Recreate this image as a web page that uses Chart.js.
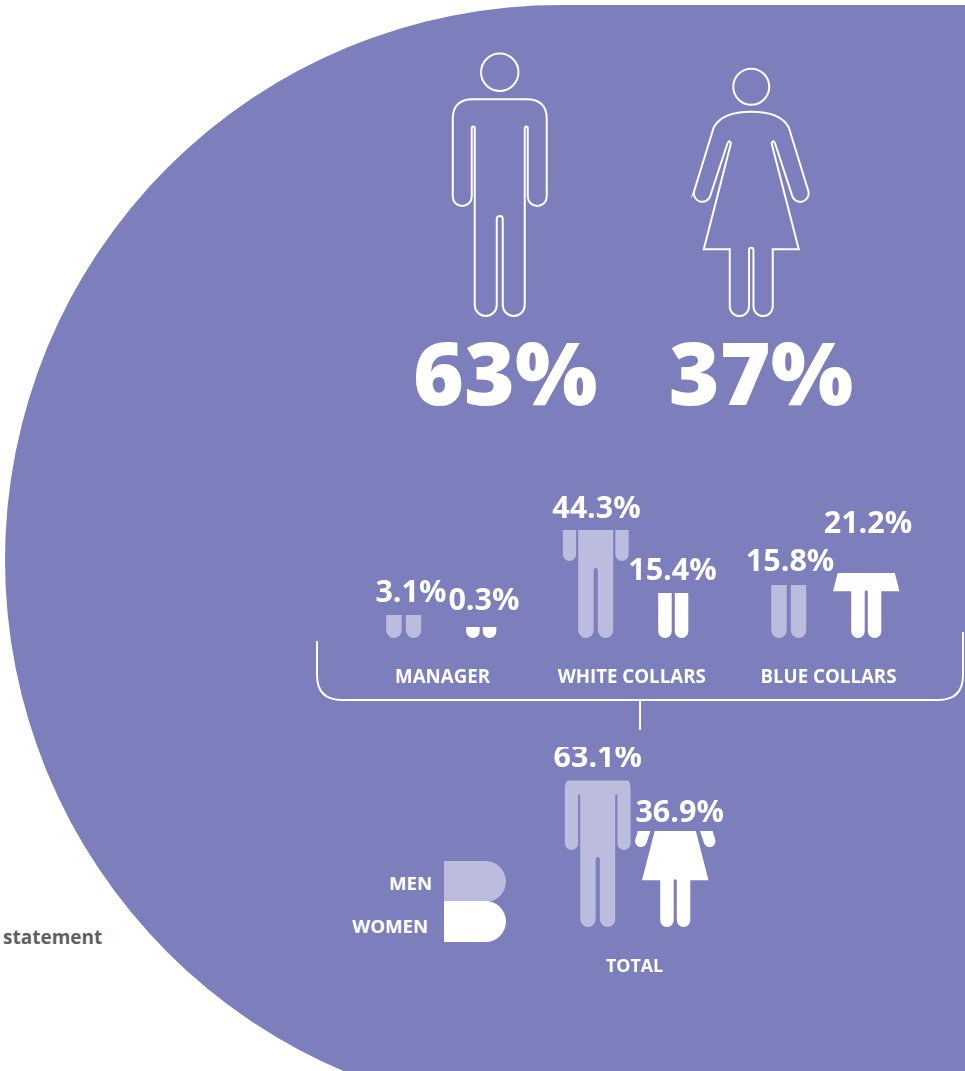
<!DOCTYPE html>
<html>
<head>
<meta charset="utf-8">
<title>Men and women by job category</title>
<script src="https://cdn.jsdelivr.net/npm/chart.js@4"></script>
<style>
  html, body { margin: 0; background: #fff; }
  #page { position: relative; width: 965px; height: 1071px; overflow: hidden; font-family: "Open Sans", sans-serif; }
  #page svg { position: absolute; left: 0; top: 0; }
  #page canvas { position: absolute; }
  .note { position: absolute; left: 3px; top: 925px; font-size: 19px; font-weight: 700; line-height: 24px; color: #5f6062; }
  .key { position: absolute; left: 444px; width: 62px; height: 41px; border-radius: 0 21px 21px 0; }
  .key-label { position: absolute; width: 100px; text-align: right; font-size: 18.6px; font-weight: 700; line-height: 24px; color: #fff; }
</style>
</head>
<body>
<div id="page">
  <svg width="965" height="1071">
    <path d="M965 5 H560 A555 555 0 0 0 560 1115 H965 Z" fill="#7c7fbb"/>
    <path d="M317 641 V675 Q317 700 342 700 H938 Q963 700 963 675 V632 M640 700 V730" fill="none" stroke="#fff" stroke-width="2"/>
  </svg>
  <div class="note">statement</div>
  <div class="key-label" style="left:332px;top:871px" id="keyMen"></div>
  <div class="key-label" style="left:328px;top:914px" id="keyWomen"></div>
  <div class="key" style="top:861px;background:#bbbcde"></div>
  <div class="key" style="top:901px;background:#fff"></div>
</div>
<script>
// values in percent
const seriesNames = ['MEN', 'WOMEN'];
const headlineCategories = ['ALL'];
const headlineMen = [63];
const headlineWomen = [37];
const managerCategories = ['MANAGER'];
const managerMen = [3.1];
const managerWomen = [0.3];
const whiteCategories = ['WHITE COLLARS'];
const whiteMen = [44.3];
const whiteWomen = [15.4];
const blueCategories = ['BLUE COLLARS'];
const blueMen = [15.8];
const blueWomen = [21.2];
const totalCategories = ['TOTAL'];
const totalMen = [63.1];
const totalWomen = [36.9];

const MEN_COLOR = '#bbbcde';
const WOMEN_COLOR = '#ffffff';

document.getElementById('keyMen').textContent = seriesNames[0];
document.getElementById('keyWomen').textContent = seriesNames[1];

// silhouettes: origin between the feet, y pointing up
function manPath() {
  const p = new Path2D();
  p.moveTo(-25, 11);
  p.arc(-14, 11, 11, Math.PI, Math.PI * 2);
  p.lineTo(-3, 97);
  p.arc(0, 97, 3, Math.PI, 0, true);
  p.lineTo(3, 11);
  p.arc(14, 11, 11, Math.PI, Math.PI * 2);
  p.lineTo(25, 188);
  p.arc(26.5, 188, 1.5, Math.PI, 0, true);
  p.lineTo(28, 119.5);
  p.arc(37.5, 119.5, 9.5, Math.PI, Math.PI * 2);
  p.lineTo(47, 197);
  p.quadraticCurveTo(47, 216.7, 27, 216.7);
  p.lineTo(-27, 216.7);
  p.quadraticCurveTo(-47, 216.7, -47, 197);
  p.lineTo(-47, 119.5);
  p.arc(-37.5, 119.5, 9.5, Math.PI, Math.PI * 2);
  p.lineTo(-28, 188);
  p.arc(-26.5, 188, 1.5, Math.PI, 0, true);
  p.closePath();
  p.moveTo(18.7, 243.7);
  p.arc(0, 243.7, 18.7, 0, Math.PI * 2);
  return p;
}

function womanPath() {
  const p = new Path2D();
  const tilt = 0.197;
  p.moveTo(-21.5, 9.65);
  p.arc(-11.85, 9.65, 9.65, Math.PI, Math.PI * 2);
  p.lineTo(-2.2, 66);
  p.arc(0, 66, 2.2, Math.PI, 0, true);
  p.lineTo(2.2, 9.65);
  p.arc(11.85, 9.65, 9.65, Math.PI, Math.PI * 2);
  p.lineTo(21.5, 66.7);
  p.lineTo(47.5, 66.7);
  p.lineTo(20.3, 172.7);
  p.quadraticCurveTo(22, 177, 24, 172);
  p.lineTo(40.7, 121);
  p.arc(49, 122.65, 8.46, Math.PI + tilt, Math.PI * 2 + tilt);
  p.lineTo(37.5, 188.7);
  p.bezierCurveTo(33, 197, 22, 204.3, 0, 204.3);
  p.bezierCurveTo(-22, 204.3, -33, 197, -37.5, 188.7);
  p.lineTo(-57.3, 124.3);
  p.arc(-49, 122.65, 8.46, Math.PI - tilt, Math.PI * 2 - tilt);
  p.lineTo(-24, 172);
  p.quadraticCurveTo(-22, 177, -20.3, 172.7);
  p.lineTo(-47.5, 66.7);
  p.lineTo(-21.5, 66.7);
  p.closePath();
  p.moveTo(18, 229.3);
  p.arc(0, 229.3, 18, 0, Math.PI * 2);
  return p;
}

const figures = [manPath(), womanPath()];

// each bar is painted as a figure cut off at the bar's top
const figureBars = {
  id: 'figureBars',
  afterDatasetsDraw(chart, args, opts) {
    const ctx = chart.ctx;
    const bleed = opts.outline ? 2 : 0;
    chart.data.datasets.forEach((ds, i) => {
      chart.getDatasetMeta(i).data.forEach((bar, j) => {
        ctx.save();
        ctx.beginPath();
        ctx.rect(bar.x - 120, bar.y - bleed, 240, bar.base - bar.y + bleed * 2);
        ctx.clip();
        ctx.translate(bar.x, bar.base);
        ctx.scale(opts.figureScale, -opts.figureScale);
        if (opts.outline) {
          ctx.strokeStyle = '#fff';
          ctx.lineWidth = 2 / opts.figureScale;
          ctx.stroke(figures[i]);
        } else {
          ctx.fillStyle = ds.figureColor;
          ctx.fill(figures[i]);
        }
        ctx.restore();

        const shift = opts.labelShift[i];
        const anchor = opts.labelFromBase ? bar.base : bar.y;
        ctx.save();
        ctx.font = opts.labelFont;
        ctx.fillStyle = '#fff';
        ctx.textAlign = 'center';
        ctx.fillText(ds.data[j] + '%', bar.x + shift[0], anchor - shift[1]);
        ctx.restore();
      });
    });
  }
};

function figureChart(cfg) {
  const canvas = document.createElement('canvas');
  const pad = 80;
  const axisHeight = cfg.showAxis ? 50 : 0;
  const below = cfg.below || 0;
  canvas.width = cfg.span + pad * 2;
  canvas.height = cfg.plotHeight + axisHeight + below;
  canvas.style.left = (cfg.center - cfg.span / 2 - pad) + 'px';
  canvas.style.top = (cfg.base - cfg.plotHeight) + 'px';
  document.getElementById('page').appendChild(canvas);

  const yMin = -cfg.lift / cfg.pxPerUnit;
  const yMax = yMin + cfg.plotHeight / cfg.pxPerUnit;

  return new Chart(canvas, {
    type: 'bar',
    data: {
      labels: cfg.categories,
      datasets: [
        { label: seriesNames[0], data: cfg.men, base: yMin, backgroundColor: 'transparent', figureColor: MEN_COLOR },
        { label: seriesNames[1], data: cfg.women, base: yMin, backgroundColor: 'transparent', figureColor: WOMEN_COLOR }
      ]
    },
    options: {
      responsive: false,
      animation: false,
      devicePixelRatio: 1,
      layout: { padding: { left: pad, right: pad, top: 0, bottom: below } },
      datasets: { bar: { categoryPercentage: 1, barPercentage: 1 } },
      scales: {
        x: {
          display: cfg.showAxis,
          grid: { display: false },
          border: { display: false },
          afterFit(scale) { scale.height = axisHeight; },
          ticks: {
            color: '#fff',
            padding: cfg.tickPadding,
            labelOffset: cfg.tickShift || 0,
            maxRotation: 0,
            font: { family: '"Open Sans"', weight: '700', size: cfg.tickSize }
          }
        },
        y: { display: false, min: yMin, max: yMax }
      },
      plugins: {
        legend: { display: false },
        tooltip: { enabled: false },
        figureBars: {
          figureScale: cfg.figureScale,
          outline: cfg.outline,
          labelFromBase: cfg.labelFromBase,
          labelShift: cfg.labelShift,
          labelFont: cfg.labelFont
        }
      }
    },
    plugins: [figureBars]
  });
}

const commonBars = { figureScale: 0.7, showAxis: true, span: 155, plotHeight: 180, tickSize: 18.7, tickPadding: 20, labelFont: '700 30.5px "Open Sans"' };

figureChart({
  center: 625.5, span: 503.2, base: 316, plotHeight: 300, below: 110,
  categories: headlineCategories, men: headlineMen, women: headlineWomen,
  lift: 225.8, pxPerUnit: 0.58, figureScale: 1, outline: true, showAxis: false,
  labelFromBase: true, labelFont: '800 87px "Open Sans"', labelShift: [[5.6, -89], [9.7, -89]]
});
figureChart(Object.assign({}, commonBars, {
  center: 442.55, base: 638, categories: managerCategories, men: managerMen, women: managerWomen,
  lift: 9.7, pxPerUnit: 4.28, labelShift: [[7.2, 13.3], [2.7, 17.4]]
}));
figureChart(Object.assign({}, commonBars, {
  center: 634.9, base: 638, tickShift: -2.8, categories: whiteCategories, men: whiteMen, women: whiteWomen,
  lift: 11.4, pxPerUnit: 2.18, labelShift: [[0.7, 12], [-0.8, 12.7]]
}));
figureChart(Object.assign({}, commonBars, {
  center: 827.5, base: 638, tickShift: 1, categories: blueCategories, men: blueMen, women: blueWomen,
  lift: 18, pxPerUnit: 2.22, labelShift: [[1.3, 14.3], [1.7, 40]]
}));
figureChart(Object.assign({}, commonBars, {
  center: 636.15, base: 927, tickSize: 17.8, tickPadding: 21, tickShift: -2, categories: totalCategories, men: totalMen, women: totalWomen,
  lift: 24.7, pxPerUnit: 1.93, labelShift: [[0, 13.7], [4.4, 9]]
}));
</script>
</body>
</html>
